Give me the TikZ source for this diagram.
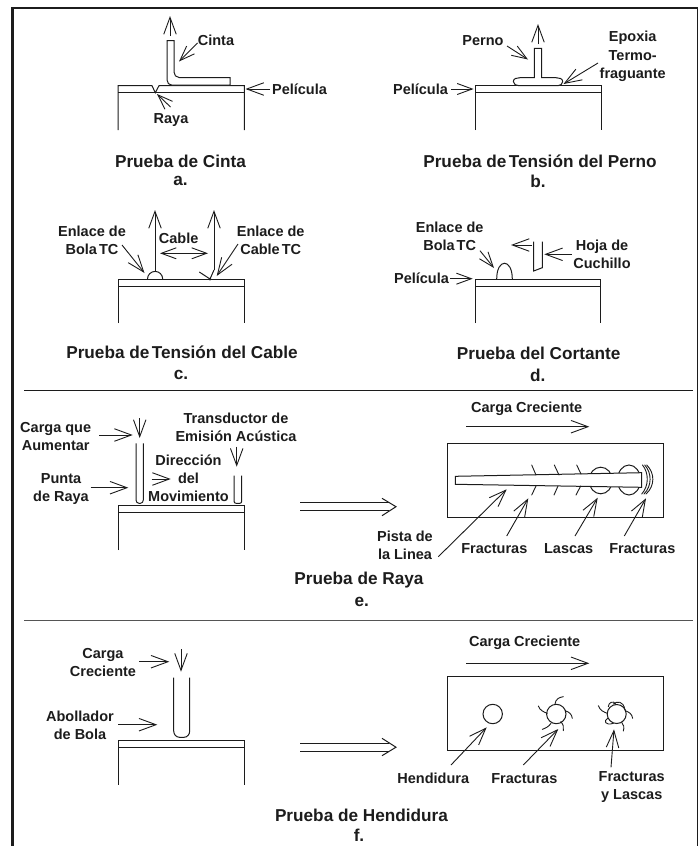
\documentclass[tikz,border=0pt]{standalone}
\usepackage{fontspec}
\setmainfont{Liberation Sans}
\usetikzlibrary{arrows.meta}
\definecolor{ink}{HTML}{1C1C1C}
\newcommand{\tk}{\kern-.14em }
\tikzset{
  lbl/.style={font=\bfseries\fontsize{14.5}{18}\selectfont,text=ink,inner sep=0pt,align=center,anchor=center},
  ttl/.style={font=\bfseries\fontsize{17.2}{20}\selectfont,text=ink,inner sep=0pt,align=center,anchor=center},
  ln/.style={line width=1pt,draw=ink},
  arr/.style={line width=.9pt,draw=ink,-{Straight Barb[length=17pt,width=12.5pt,line width=.9pt]}},
  arrs/.style={line width=.9pt,draw=ink,-{Straight Barb[length=15pt,width=11pt,line width=.9pt]}},
  thin/.style={line width=.9pt,draw=ink,line cap=round}
}
\begin{document}
\begin{tikzpicture}[x=1pt,y=-1pt]
\useasboundingbox (0,0) rectangle (700,846);
% frame
\draw[line width=2.5pt,draw=ink] (12.3,846) -- (12.3,8.2) -- (697.5,8.2);
\draw[line width=1.5pt,draw=ink] (697.5,8.2) -- (697.5,846);
% rules
\draw[line width=1pt,draw=ink] (24.3,390.7) -- (693.3,390.7);
\draw[line width=1.2pt,draw=ink!75] (24.3,620.7) -- (693.3,620.7);

% ---------- a
\draw[ln] (118,130) -- (118,85.7) -- (152,85.7) -- (155.3,92.7) -- (159,85.7) -- (244.3,85.7) -- (244.3,130);
\draw[ln] (118,92.7) -- (244.3,92.7);
\draw[ln,fill=white] (167,40.7) -- (174,40.7) -- (174,72) to[out=270,in=180] (179,77.5) -- (230,77.5) -- (230,85.2) -- (172,85.2) to[out=180,in=270] (167,80) -- cycle;
\draw[arr] (170,36) -- (170,16);
\node[lbl] (cinta) at (216,40) {Cinta};
\draw[arrs] (197.5,43) -- (179,61.5);
\node[lbl] (peliA) at (299.5,89) {Película};
\draw[arr] (270,89) -- (245.5,89);
\node[lbl] (raya) at (171,120.5) {Raya};
\draw[arrs] (170.5,107) -- (157,94);
\node[ttl] (tA) at (180.5,161) {Prueba de Cinta};
\node[ttl] (sA) at (180.5,181) {a.};

% ---------- b
\draw[ln] (475,130) -- (475,85.7) -- (601.7,85.7) -- (601.7,130);
\draw[ln] (475,92.7) -- (601.7,92.7);
\draw[ln,fill=white] (534.3,48.3) -- (541.7,48.3) -- (541.7,77.7) -- (556,77.7) to[out=0,in=90] (562.7,81.5) to[out=270,in=0] (558,85.7) -- (519,85.7) to[out=180,in=270] (513.3,81.5) to[out=90,in=180] (520,77.7) -- (534.3,77.7) -- cycle;
\draw[arr] (538,44) -- (538,24);
\node[lbl] (perno) at (483,41) {Perno};
\draw[arrs] (507,46) -- (528,59.5);
\node[lbl] (epox) at (632.7,56.5) {Epoxia\\[1pt]Termo-\\fraguante};
\draw[arr] (598,63) -- (563.5,84);
\node[lbl] (peliB) at (420.5,89) {Película};
\draw[arrs] (451,89) -- (473.5,89);
\node[ttl] (tB) at (540,161) {Prueba de \tk Tensión del Perno};
\node[ttl] (sB) at (538,181) {b.};

% ---------- c
\draw[ln] (118,323) -- (118,279) -- (244.3,279) -- (244.3,323);
\draw[ln] (118,286.7) -- (244.3,286.7);
\draw[ln] (147.5,279) arc[start angle=180,end angle=360,radius=7.6];
\draw[arr] (155,271) -- (155,210);
\draw[ln] (199.3,272) -- (210,279) -- (214,270);
\draw[arr] (214,270) -- (214,210);
\fill[ink] (210,279) circle (1.5);
\node[lbl] (bolaC) at (92,240) {Enlace de\\Bola \tk TC};
\draw[arr] (122,245) -- (144.5,273);
\node[lbl] (cable) at (178.7,238) {Cable};
\draw[line width=.9pt,draw=ink,{Straight Barb[length=15pt,width=11pt,line width=.9pt]}-{Straight Barb[length=15pt,width=11pt,line width=.9pt]}] (160,253.3) -- (208,253.3);
\node[lbl] (cableC) at (270.7,240) {Enlace de\\Cable \tk TC};
\draw[arr] (238,244) -- (216.7,276);
\node[ttl] (tC) at (182,352.7) {Prueba de \tk Tensión del Cable};
\node[ttl] (sC) at (181,375) {c.};

% ---------- d
\draw[ln] (475,323) -- (475,279) -- (600.7,279) -- (600.7,323);
\draw[ln] (475,286.7) -- (600.7,286.7);
\draw[ln] (496.7,279) .. controls (496.7,258) and (512.3,258) .. (512.3,279);
\draw[ln] (542.3,241.7) -- (542.3,267.7) -- (533.7,271) -- (533.7,241.7);
\draw[arr] (531.7,245) -- (511,245);
\draw[arr] (571.7,254.3) -- (544.3,254.3);
\node[lbl] (hoja) at (602,254) {Hoja de\\Cuchillo};
\node[lbl] (bolaD) at (449.7,236) {Enlace de\\Bola \tk TC};
\draw[arrs] (480,250.7) -- (494,268);
\node[lbl] (peliD) at (421.5,278.5) {Película};
\draw[arrs] (450,278.7) -- (472.7,278.7);
\node[ttl] (tD) at (538.7,353) {Prueba del Cortante};
\node[ttl] (sD) at (537.7,375) {d.};

% ---------- e
\draw[ln] (118,550) -- (118,505) -- (244.3,505) -- (244.3,550);
\draw[ln] (118,512.7) -- (244.3,512.7);
\draw[ln] (136,443.3) -- (136,500) to[out=270,in=180] (139,503.3) -- (140.5,503.3) to[out=0,in=270] (143.3,500) -- (143.3,443.3);
\draw[ln] (234,475.7) -- (234,501) to[out=270,in=180] (236,503.3) -- (240,503.3) to[out=0,in=270] (241.7,501) -- (241.7,475.7);
\draw[arr] (139.7,418) -- (139.7,438);
\draw[arr] (236.7,446.7) -- (236.7,466.7);
\node[lbl] (cargaE) at (55.7,436.3) {Carga que\\Aumentar};
\draw[arr] (99.3,435) -- (132.7,435);
\node[lbl] (punta) at (61,489.5) {Punta\\de Raya};
\draw[arr] (90.7,487.7) -- (128.3,487.7);
\node[lbl] (trans) at (236,427.2) {Transductor de\\Emisión Acústica};
\node[lbl] (dir) at (188.5,478) {Dirección\\del\\Movimiento};
\draw[arr] (151.7,479) -- (170.7,479);
% wide arrow e
\draw[ln] (300,502.7) -- (389,502.7) (300,510.7) -- (389,510.7);
\draw[ln] (382,498.3) -- (396,506.7) -- (382,515.7);
% e sample
\node[lbl] (cargaE2) at (526.7,408.3) {Carga Creciente};
\draw[arr] (466,426.7) -- (589.3,426.7);
\draw[ln] (447.7,443) rectangle (663.3,517);
\draw[ln] (600.7,480.5) ellipse [x radius=11.7,y radius=13.3];
\draw[ln] (629,480) ellipse [x radius=11.5,y radius=15];
\draw[ln,fill=white] (455.3,476.3) -- (641.7,472.7) -- (641.7,487.3) -- (455.3,484.3) -- cycle;
\draw[thin] (531.7,465) -- (536,475) (554.3,465) -- (559,475) (576.7,465) -- (581,474);
\draw[thin] (536,486) -- (531.7,495) (558,486) -- (554,495) (580.7,486) -- (576,495);
\draw[thin] (642.5,465) .. controls (649,473) and (649,486) .. (641.7,494);
\draw[thin] (644.7,465) .. controls (652,473) and (652,486) .. (644,494);
\draw[thin] (646.7,465) .. controls (655,473) and (655,486) .. (646,494);
\draw[arr] (438.3,556.7) -- (506.7,489.3);
\draw[arr] (506.7,536) -- (528.3,498.3);
\draw[arr] (575,536) -- (597.7,497.7);
\draw[arr] (624.3,536) -- (646,498.3);
\node[lbl] (pista) at (405,545.5) {Pista de\\la Linea};
\node[lbl] (frE1) at (494.3,548.3) {Fracturas};
\node[lbl] (lasE) at (568.7,548.3) {Lascas};
\node[lbl] (frE2) at (642.3,548.3) {Fracturas};
\node[ttl] (tE) at (359,580) {Prueba de Raya};
\node[ttl] (sE) at (361.7,601.7) {e.};

% ---------- f
\draw[ln] (118,784.7) -- (118,740.3) -- (244.3,740.3) -- (244.3,784.7);
\draw[ln] (118,747.7) -- (244.3,747.7);
\draw[ln] (173.7,677.7) -- (173.7,731) to[out=270,in=180] (179.5,737.3) -- (184,737.3) to[out=0,in=270] (189.7,731) -- (189.7,677.7);
\draw[arr] (181,649) -- (181,671.7);
\node[lbl] (cargaF) at (103,662.3) {Carga\\Creciente};
\draw[arr] (139.3,661.7) -- (169.3,661.7);
\node[lbl] (abo) at (80,725.5) {Abollador\\de Bola};
\draw[arr] (118.3,724.7) -- (157.3,724.7);
\draw[ln] (300,743.3) -- (389,743.3) (300,751) -- (389,751);
\draw[ln] (382,738.3) -- (396,747.2) -- (382,755.7);
\node[lbl] (cargaF2) at (524.7,642.3) {Carga Creciente};
\draw[arr] (466,663.3) -- (589.3,663.3);
\draw[ln] (447.7,676.3) rectangle (663.3,750.3);
\draw[ln] (492.7,714) circle (9.7);
\draw[ln] (556.3,714) circle (9.7);
\draw[ln] (616.7,714) circle (9.5);
\begin{scope}[shift={(470,690)},x=.3333pt,y=-.3333pt]
  \draw[thin] (255,42) .. controls (257,28) and (266,22) .. (280,20);
  \draw[thin] (232,70) .. controls (222,66) and (210,62) .. (205,48);
  \draw[thin] (285,62) .. controls (298,66) and (305,72) .. (307,85);
  \draw[thin] (272,95) .. controls (280,102) and (282,112) .. (280,122);
  \draw[thin] (243,100) .. controls (236,110) and (228,114) .. (217,118);
  \draw[thin] (412,70) .. controls (402,66) and (390,62) .. (385,47);
  \draw[thin] (465,62) .. controls (478,66) and (486,72) .. (488,85);
  \draw[thin] (455,97) .. controls (462,104) and (463,112) .. (460,123);
  \draw[thin] (415,50) .. controls (415,38) and (430,30) .. (437,42);
  \draw[thin] (430,42) .. controls (440,34) and (460,30) .. (465,60);
  \draw[thin] (413,85) .. controls (400,92) and (405,108) .. (430,100);
\end{scope}
\draw[arr] (451,765) -- (486.7,727.3);
\draw[arr] (523.3,765) -- (558.3,729);
\draw[arr] (611,767.3) -- (614,729.3);
\node[lbl] (hend) at (433.3,778.3) {Hendidura};
\node[lbl] (frF1) at (524.3,778.3) {Fracturas};
\node[lbl] (frF2) at (631.7,787.2) {Fracturas\\y Lascas};
\node[ttl] (tF) at (361.5,815) {Prueba de Hendidura};
\node[ttl] (sF) at (359,835.7) {f.};
\end{tikzpicture}
\end{document}
